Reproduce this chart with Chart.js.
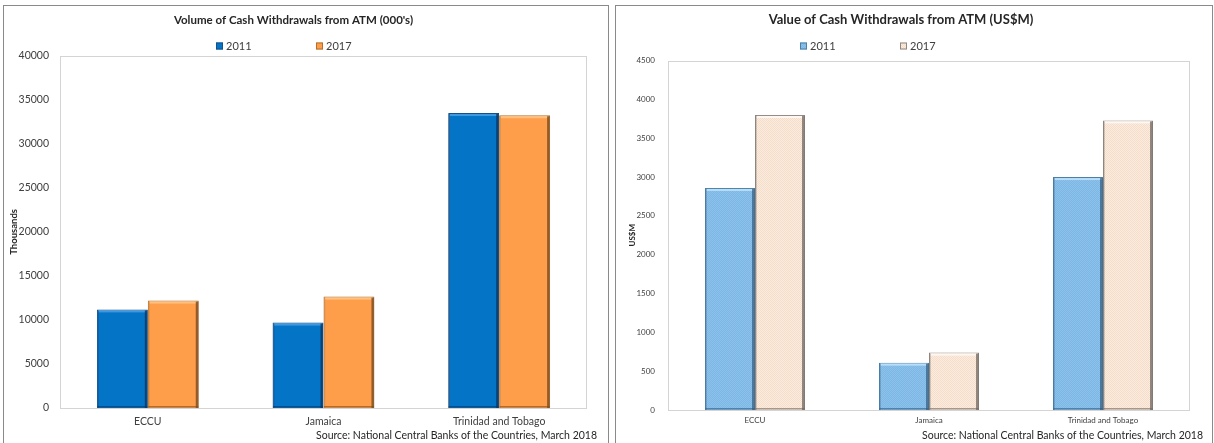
<!DOCTYPE html>
<html>
<head>
<meta charset="utf-8">
<title>ATM Cash Withdrawals</title>
<script src="https://cdn.jsdelivr.net/npm/chart.js@4/dist/chart.umd.min.js"></script>
<style>
  html, body { margin: 0; padding: 0; background: #fff; width: 1214px; height: 443px; overflow: hidden; }
  .panel { position: absolute; top: 5px; height: 470px; border: 1.5px solid #8a8a8a; box-sizing: border-box; background: #fff; }
  #panelVolume { left: 3px; width: 606px; }
  #panelValue { left: 615px; width: 598px; }
  canvas { position: absolute; top: 0; }
  #volumeChart { left: 0; }
  #valueChart { left: 612px; }
  .source { position: absolute; top: 429px; font: 10.5px Lato, "Open Sans", sans-serif; color: #262626; white-space: nowrap; text-align: right; }
  #srcVolume { right: calc(1214px - 597px); }
  #srcValue { right: calc(1214px - 1203px); }
</style>
</head>
<body>
<div class="panel" id="panelVolume"></div>
<div class="panel" id="panelValue"></div>
<canvas id="volumeChart" width="610" height="443"></canvas>
<canvas id="valueChart" width="602" height="443"></canvas>
<div class="source" id="srcVolume">Source: National Central Banks of the Countries, March 2018</div>
<div class="source" id="srcValue">Source: National Central Banks of the Countries, March 2018</div>
<script>
// Countries on the category axis
const categories = ['ECCU', 'Jamaica', 'Trinidad and Tobago'];
const seriesNames = ['2011', '2017'];

// Number of ATM cash withdrawals, thousands
const volume2011 = [11200, 9700, 33500];
const volume2017 = [12200, 12650, 33250];

// Value of ATM cash withdrawals, US$ millions
const value2011 = [2860, 610, 3000];
const value2017 = [3800, 740, 3730];

// Value-axis ticks
const volumeTicks = [0, 5000, 10000, 15000, 20000, 25000, 30000, 35000, 40000];
const valueTicks = [0, 500, 1000, 1500, 2000, 2500, 3000, 3500, 4000, 4500];

const FONT = 'Lato, "Open Sans", sans-serif';

// Small dotted fill used for the value chart bars
function dottedFill(base, dot) {
  const c = document.createElement('canvas');
  c.width = 2; c.height = 2;
  const g = c.getContext('2d');
  g.fillStyle = base; g.fillRect(0, 0, 2, 2);
  g.fillStyle = dot; g.fillRect(0, 0, 1, 1); g.fillRect(1, 1, 1, 1);
  return g.createPattern(c, 'repeat');
}

// Light frame round the plotting area
const plotFrame = {
  id: 'plotFrame',
  beforeDatasetsDraw(chart, args, opts) {
    const { ctx, chartArea: a } = chart;
    ctx.save();
    ctx.strokeStyle = opts.color;
    ctx.lineWidth = 1;
    ctx.strokeRect(Math.round(a.left) + 0.5, Math.round(a.top) + 0.5,
                   Math.round(a.right - a.left) - 1, Math.round(a.bottom - a.top));
    ctx.restore();
  }
};

// Raised look on each bar: light top lip, dark right edge
const bevel = {
  id: 'bevel',
  afterDatasetsDraw(chart, args, opts) {
    const ctx = chart.ctx;
    chart.data.datasets.forEach((ds, i) => {
      const st = opts.styles[i];
      chart.getDatasetMeta(i).data.forEach(bar => {
        const { x, y, base, width } = bar.getProps(['x', 'y', 'base', 'width'], true);
        const l = x - width / 2, r = x + width / 2, h = base - y;
        ctx.save();
        ctx.fillStyle = st.top;
        ctx.fillRect(l + 1.5, y + 1, width - 3, 2);
        ctx.fillStyle = st.right;
        ctx.fillRect(r - 3, y + 1, 2.5, h - 1);
        ctx.fillStyle = st.left;
        ctx.fillRect(l + 0.5, y + 1, 1.2, h - 1);
        ctx.fillStyle = st.bottom;
        ctx.fillRect(l + 0.5, base - 2, width - 1, 1.5);
        ctx.restore();
      });
    });
  }
};

// Series key drawn as two spaced items above the plot
const pairLegend = {
  id: 'pairLegend',
  afterDraw(chart, args, o) {
    const ctx = chart.ctx;
    ctx.save();
    ctx.font = o.font;
    ctx.textBaseline = 'middle';
    chart.data.datasets.forEach((ds, i) => {
      const x = o.x + i * o.step;
      ctx.fillStyle = ds.backgroundColor;
      ctx.fillRect(x, o.y - o.box / 2, o.box, o.box);
      ctx.strokeStyle = ds.borderColor;
      ctx.lineWidth = 1;
      ctx.strokeRect(x + 0.5, o.y - o.box / 2 + 0.5, o.box - 1, o.box - 1);
      ctx.fillStyle = o.color;
      ctx.fillText(ds.label, x + o.box + 3, o.y + 0.5);
    });
    ctx.restore();
  }
};

function baseOptions(cfg) {
  return {
    responsive: false,
    animation: false,
    layout: { padding: { left: 0, right: cfg.padRight, top: 0, bottom: 0 } },
    plugins: {
      legend: { display: false },
      tooltip: { enabled: false },
      title: {
        display: true,
        text: cfg.title,
        color: '#262626',
        font: { family: FONT, size: cfg.titleSize, weight: 'bold' },
        padding: cfg.titlePad
      },
      plotFrame: { color: '#d4d4d4' },
      bevel: { styles: cfg.bevel },
      pairLegend: cfg.legend
    },
    scales: {
      x: {
        grid: { display: false, drawTicks: false },
        border: { display: false },
        ticks: { color: '#404040', padding: cfg.xPad, font: { family: FONT, size: cfg.tickSize } },
        afterFit(s) { s.height = cfg.xHeight; }
      },
      y: {
        min: cfg.ticks[0],
        max: cfg.ticks[cfg.ticks.length - 1],
        afterBuildTicks(s) { s.ticks = cfg.ticks.map(v => ({ value: v })); },
        grid: { display: false, drawTicks: false },
        border: { display: false },
        ticks: {
          color: '#404040', padding: cfg.yPad, font: { family: FONT, size: cfg.tickSize },
          callback: v => String(v)
        },
        title: {
          display: true,
          text: cfg.yTitle,
          color: '#262626',
          font: { family: FONT, size: cfg.yTitleSize, weight: 'bold' },
          padding: { top: cfg.yTitlePad, bottom: 0 }
        },
        afterFit(s) { s.width = cfg.yWidth; }
      }
    }
  };
}

// Volume chart
new Chart(document.getElementById('volumeChart'), {
  type: 'bar',
  data: {
    labels: categories,
    datasets: [
      { label: seriesNames[0], data: volume2011, backgroundColor: '#0474c6', borderColor: '#14508a', borderWidth: 1,
        categoryPercentage: 0.58, barPercentage: 1.0 },
      { label: seriesNames[1], data: volume2017, backgroundColor: '#fe9e4b', borderColor: '#b0702f', borderWidth: 1,
        categoryPercentage: 0.58, barPercentage: 1.0 }
    ]
  },
  options: baseOptions({
    title: "Volume of Cash Withdrawals from ATM (000's)",
    titleSize: 11.5,
    titlePad: { top: 13, bottom: 29 },
    padRight: 23,
    tickSize: 10.5,
    xPad: 7,
    xHeight: 35,
    yPad: 11,
    yWidth: 60,
    yTitle: 'Thousands',
    yTitleSize: 9.5,
    yTitlePad: 8,
    ticks: volumeTicks,
    bevel: [
      { top: 'rgba(90,170,235,0.7)', right: 'rgba(10,50,95,0.75)', left: 'rgba(20,70,120,0.6)', bottom: 'rgba(10,50,95,0.6)' },
      { top: 'rgba(255,200,140,0.8)', right: 'rgba(120,75,30,0.8)', left: 'rgba(190,120,55,0.5)', bottom: 'rgba(120,75,30,0.6)' }
    ],
    legend: { x: 216, y: 46, step: 100, box: 7, font: '11px ' + FONT, color: '#404040' }
  }),
  plugins: [plotFrame, bevel, pairLegend]
});

// Value chart
const blueDots = dottedFill('#7db7e5', '#8cc1ea');
const beigeDots = dottedFill('#fdebdc', '#f3ddcc');
new Chart(document.getElementById('valueChart'), {
  type: 'bar',
  data: {
    labels: categories,
    datasets: [
      { label: seriesNames[0], data: value2011, backgroundColor: blueDots, borderColor: '#4d7fa6', borderWidth: 1,
        categoryPercentage: 0.575, barPercentage: 1.0 },
      { label: seriesNames[1], data: value2017, backgroundColor: beigeDots, borderColor: '#8e8782', borderWidth: 1,
        categoryPercentage: 0.575, barPercentage: 1.0 }
    ]
  },
  options: baseOptions({
    title: 'Value of Cash Withdrawals from ATM (US$M)',
    titleSize: 13,
    titlePad: { top: 12, bottom: 33 },
    padRight: 24,
    tickSize: 8,
    xPad: 6,
    xHeight: 33,
    yPad: 13,
    yWidth: 56,
    yTitle: 'US$M',
    yTitleSize: 8,
    yTitlePad: 16,
    ticks: valueTicks,
    bevel: [
      { top: 'rgba(190,225,250,0.9)', right: 'rgba(50,90,125,0.7)', left: 'rgba(70,110,150,0.5)', bottom: 'rgba(50,90,125,0.6)' },
      { top: 'rgba(255,250,245,0.9)', right: 'rgba(110,100,95,0.75)', left: 'rgba(140,130,125,0.5)', bottom: 'rgba(110,100,95,0.6)' }
    ],
    legend: { x: 188, y: 46, step: 100, box: 7, font: '11px ' + FONT, color: '#404040' }
  }),
  plugins: [plotFrame, bevel, pairLegend]
});
</script>
</body>
</html>
